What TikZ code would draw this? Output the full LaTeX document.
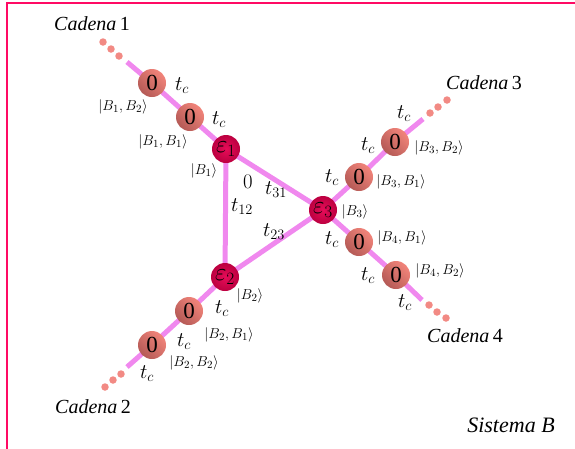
\documentclass[tikz,border=0pt]{standalone}
\usepackage{fontspec}
\setmainfont{Liberation Serif}
\usetikzlibrary{backgrounds}
\definecolor{framec}{HTML}{FF0A64}
\definecolor{linkc}{HTML}{F088EE}
\definecolor{dotc}{HTML}{F28A84}
\definecolor{sitedark}{HTML}{B45A56}
\definecolor{sitelight}{HTML}{F2847A}
\definecolor{impin}{HTML}{E60C58}
\definecolor{impout}{HTML}{BC0040}
\tikzset{
  site/.style={circle, minimum size=28pt, inner sep=0pt, left color=sitedark, right color=sitelight, shading angle=135,
    font=\fontsize{23}{24}\selectfont},
  imp/.style={circle, minimum size=28pt, inner sep=0pt, inner color=impin, outer color=impout,
    font=\fontsize{23}{24}\selectfont},
  link/.style={linkc, line width=5pt},
  dotn/.style={circle, fill=dotc, minimum size=7.5pt, inner sep=0pt},
  hop/.style={font=\fontsize{20}{24}\selectfont, inner sep=0pt},
  ket/.style={font=\fontsize{15}{16}\selectfont, inner sep=0pt},
  chain/.style={font=\fontsize{20}{24}\selectfont, inner sep=0pt},
}
\begin{document}
\begin{tikzpicture}[x=1pt,y=-1pt]
\useasboundingbox (0,0) rectangle (575,448);
\draw[framec, line width=2.5pt] (7,470) -- (7,3) -- (600,3);
% impurities
\node[imp] (e1) at (226,149) {$\varepsilon_1$};
\node[imp] (e2) at (225,277) {$\varepsilon_2$};
\node[imp] (e3) at (323,210) {$\varepsilon_3$};
% chain 1
\node[site] (a1) at (190,117) {0};
\node[site] (a2) at (152,83) {0};
\coordinate (a3) at (127,62);
\node[dotn] (ad1) at (119,56) {};
\node[dotn] (ad2) at (111,49) {};
\node[dotn] (ad3) at (103,42) {};
% chain 2
\node[site] (b1) at (189,311) {0};
\node[site] (b2) at (152,345) {0};
\coordinate (b3) at (127,367);
\node[dotn] (bd1) at (121,374) {};
\node[dotn] (bd2) at (113,380) {};
\node[dotn] (bd3) at (105,387) {};
% chain 3
\node[site] (c1) at (359,177) {0};
\node[site] (c2) at (395,142) {0};
\coordinate (c3) at (423,119);
\node[dotn] (cd1) at (430,113) {};
\node[dotn] (cd2) at (438,107) {};
\node[dotn] (cd3) at (447,100) {};
% chain 4
\node[site] (d1) at (359,242) {0};
\node[site] (d2) at (396,275) {0};
\coordinate (d3) at (422,300);
\node[dotn] (dd1) at (429,305) {};
\node[dotn] (dd2) at (437,312) {};
\node[dotn] (dd3) at (446,318) {};
\begin{pgfonlayer}{background}
\draw[link] (e1.center) -- (e2.center) -- (e3.center) -- cycle;
\draw[link] (e1.center) -- (a1.center) -- (a2.center) -- (a3);
\draw[link] (e2.center) -- (b1.center) -- (b2.center) -- (b3);
\draw[link] (e3.center) -- (c1.center) -- (c2.center) -- (c3);
\draw[link] (e3.center) -- (d1.center) -- (d2.center) -- (d3);
\end{pgfonlayer}
% hopping labels
\node[hop] (ta2) at (182,86) {$t_c$};
\node[hop] (ta1) at (219,120) {$t_c$};
\node[hop] (tb1) at (222,309) {$t_c$};
\node[hop] (tb2) at (184,342) {$t_c$};
\node[hop] (tb3) at (147,374) {$t_c$};
\node[hop] (tc1) at (332,178) {$t_c$};
\node[hop] (tc2) at (368,146) {$t_c$};
\node[hop] (tc3) at (404,114) {$t_c$};
\node[hop] (td1) at (332,240) {$t_c$};
\node[hop] (td2) at (368,276) {$t_c$};
\node[hop] (td3) at (405,303) {$t_c$};
\node[hop] (t12) at (242,207) {$t_{12}$};
\node[hop] (t31) at (276,190) {$t_{31}$};
\node[hop] (t23) at (274,232) {$t_{23}$};
\node[hop] (z0) at (248,182) {$0$};
% kets
\node[ket] (ka2) at (123,107) {$\bigl|B_1,B_2\bigr\rangle$};
\node[ket] (ka1) at (163,142) {$\bigl|B_1,B_1\bigr\rangle$};
\node[ket] (ke1) at (204,171) {$\bigl|B_1\bigr\rangle$};
\node[ket] (ke2) at (250,296) {$\bigl|B_2\bigr\rangle$};
\node[ket] (kb1) at (229,335) {$\bigl|B_2,B_1\bigr\rangle$};
\node[ket] (kb2) at (194,363) {$\bigl|B_2,B_2\bigr\rangle$};
\node[ket] (ke3) at (355,212) {$\bigl|B_3\bigr\rangle$};
\node[ket] (kc1) at (401,182) {$\bigl|B_3,B_1\bigr\rangle$};
\node[ket] (kc2) at (439,148) {$\bigl|B_3,B_2\bigr\rangle$};
\node[ket] (kd1) at (402,238) {$\bigl|B_4,B_1\bigr\rangle$};
\node[ket] (kd2) at (440,271) {$\bigl|B_4,B_2\bigr\rangle$};
% chain names
\node[chain] (n1) at (92,24) {\textit{Cadena}\,1};
\node[chain] (n2) at (93,407) {\textit{Cadena}\,2};
\node[chain] (n3) at (484,83) {\textit{Cadena}\,3};
\node[chain] (n4) at (465,336) {\textit{Cadena}\,4};
\node[chain, font=\fontsize{22}{26}\selectfont] (sb) at (511,425) {\textit{Sistema B}};
\end{tikzpicture}
\end{document}
